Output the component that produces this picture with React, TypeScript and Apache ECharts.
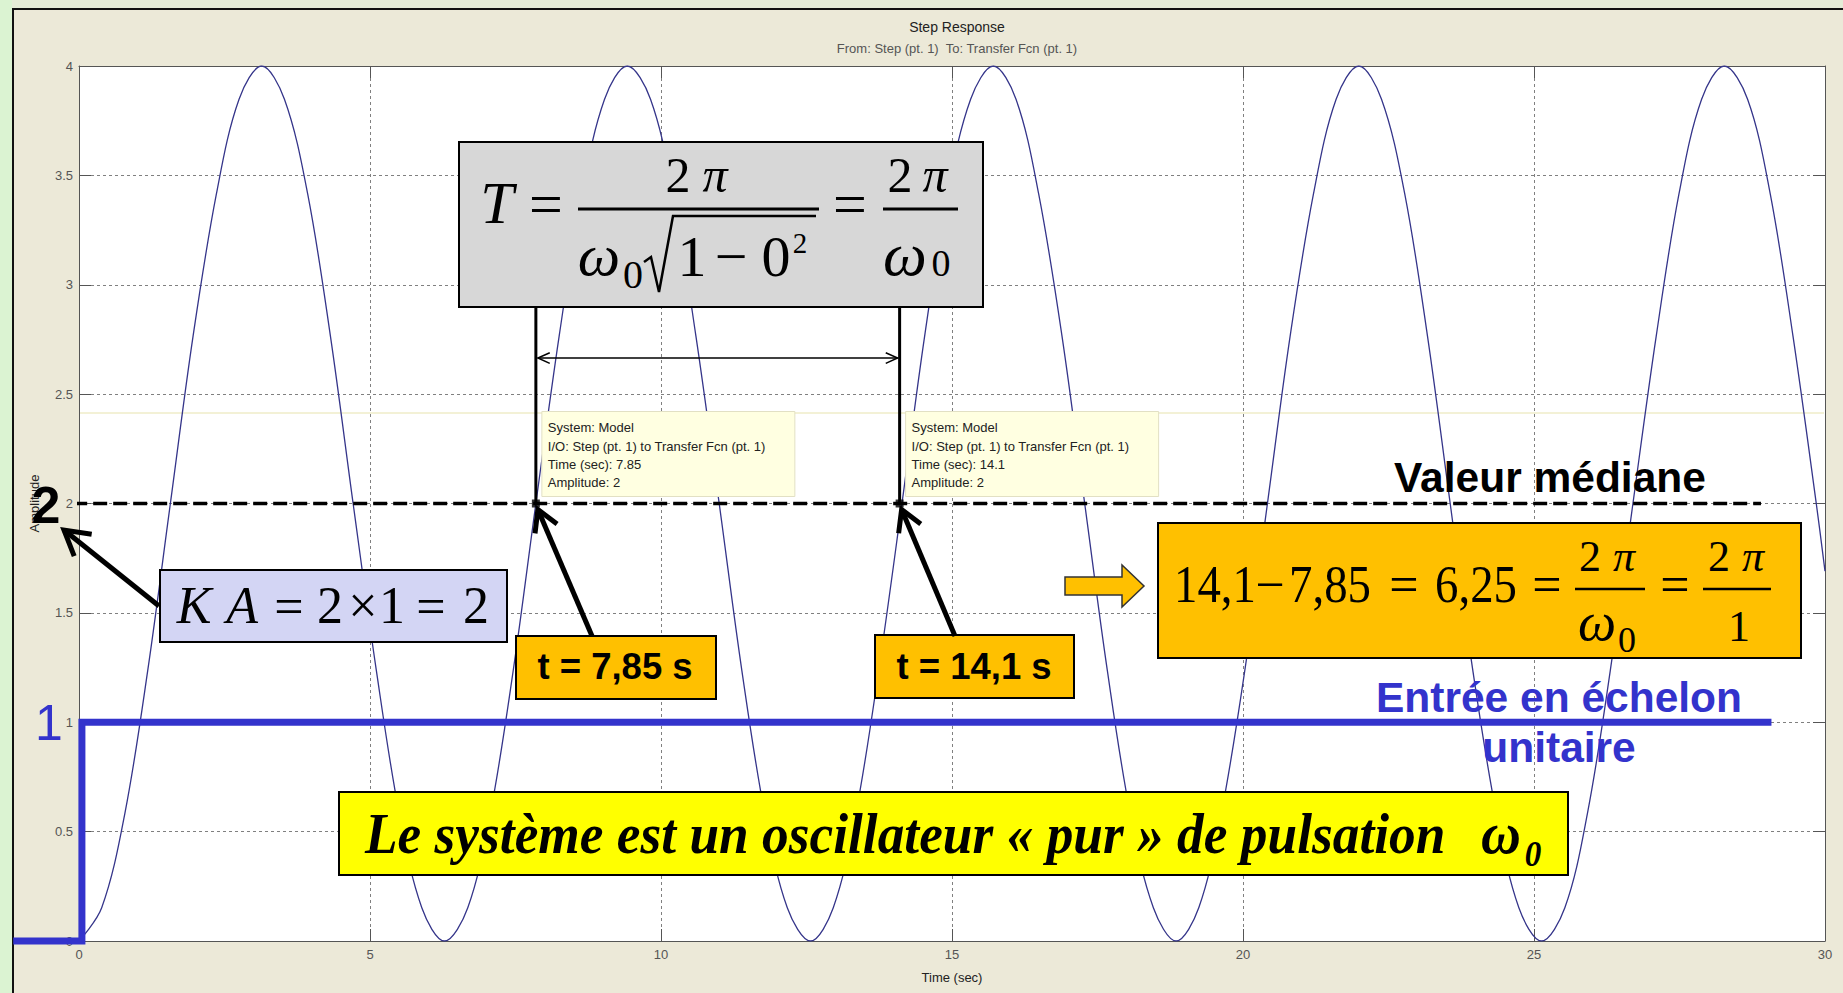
import React, { useEffect, useRef } from "react";
import * as echarts from "echarts";

const W = 1843;
const H = 993;
const GRID_L = 79;
const GRID_R = 18;
const GRID_T = 66;
const GRID_B = 52;

const SERIF = "'Liberation Serif', 'Times New Roman', serif";
const SANS = "'Liberation Sans', Arial, sans-serif";
const BLUE = "#3333cc";
const ORANGE = "#ffc000";

// Step response of the undamped second-order system (time in s, amplitude)
const responseTime = [
  0, 0.39, 0.79, 1.18, 1.57, 1.96, 2.36, 2.75, 3.14, 3.53, 3.93, 4.32, 4.71, 5.11, 5.5, 5.89,
  6.28, 6.68, 7.07, 7.46, 7.85, 8.25, 8.64, 9.03, 9.42, 9.82, 10.21, 10.6, 11.0, 11.39, 11.78, 12.17,
  12.57, 12.96, 13.35, 13.74, 14.14, 14.53, 14.92, 15.32, 15.71, 16.1, 16.49, 16.89, 17.28, 17.67, 18.06, 18.46,
  18.85, 19.24, 19.63, 20.03, 20.42, 20.81, 21.21, 21.6, 21.99, 22.38, 22.78, 23.17, 23.56, 23.95, 24.35, 24.74,
  25.13, 25.53, 25.92, 26.31, 26.7, 27.1, 27.49, 27.88, 28.27, 28.67, 29.06, 29.45, 29.85, 30,
];
const responseAmp = [
  0, 0.152, 0.586, 1.235, 2, 2.765, 3.414, 3.848, 4, 3.848, 3.414, 2.765, 2, 1.235, 0.586, 0.152,
  0, 0.152, 0.586, 1.235, 2, 2.765, 3.414, 3.848, 4, 3.848, 3.414, 2.765, 2, 1.235, 0.586, 0.152,
  0, 0.152, 0.586, 1.235, 2, 2.765, 3.414, 3.848, 4, 3.848, 3.414, 2.765, 2, 1.235, 0.586, 0.152,
  0, 0.152, 0.586, 1.235, 2, 2.765, 3.414, 3.848, 4, 3.848, 3.414, 2.765, 2, 1.235, 0.586, 0.152,
  0, 0.152, 0.586, 1.235, 2, 2.765, 3.414, 3.848, 4, 3.848, 3.414, 2.765, 2, 1.691,
];

// Unit step input
const stepTime = [-1.13, 0.05, 0.05, 29.08];
const stepAmp = [0, 0, 1, 1];

// Median value line
const medianLevel = 2;
const medianSpan = [-0.1, 28.9];

// Data tips
const tipTimes = [7.85, 14.1];
const tipAmps = [2, 2];
const tipLeaderTop = 2.9;
const periodArrowLevel = 2.665;

// Axis ticks
const xMin = 0;
const xMax = 30;
const xStep = 5;
const yMin = 0;
const yMax = 4;
const yStep = 0.5;

type TxtOpts = {
  family?: string;
  style?: string;
  weight?: string;
  fill?: string;
  align?: string;
  scaleX?: number;
  z?: number;
};

function txt(text: string, x: number, baseline: number, size: number, o: TxtOpts = {}) {
  const family = o.family || SERIF;
  const k = family === SANS ? 0.347 : 0.338;
  return {
    type: "text",
    z: o.z ?? 12,
    x,
    y: baseline - k * size,
    scaleX: o.scaleX ?? 1,
    silent: true,
    style: {
      text,
      x: 0,
      y: 0,
      align: o.align || "center",
      verticalAlign: "middle",
      fontSize: size,
      fontFamily: family,
      fontStyle: o.style || "normal",
      fontWeight: o.weight || "normal",
      fill: o.fill || "#000",
    },
  };
}

function rect(x: number, y: number, w: number, h: number, fill: string, stroke = "#000", lw = 2, z = 10) {
  return {
    type: "rect",
    z,
    silent: true,
    shape: { x, y, width: w, height: h },
    style: { fill, stroke, lineWidth: lw },
  };
}

function seg(x1: number, y1: number, x2: number, y2: number, lw: number, stroke = "#000", z = 11) {
  return {
    type: "line",
    z,
    silent: true,
    shape: { x1, y1, x2, y2 },
    style: { stroke, lineWidth: lw },
  };
}

function head(x1: number, y1: number, x2: number, y2: number, len: number, lw: number, angDeg = 30, z = 11) {
  const a = Math.atan2(y2 - y1, x2 - x1);
  const d = (angDeg * Math.PI) / 180;
  const p1 = [x2 - len * Math.cos(a - d), y2 - len * Math.sin(a - d)];
  const p2 = [x2 - len * Math.cos(a + d), y2 - len * Math.sin(a + d)];
  return {
    type: "polyline",
    z,
    silent: true,
    shape: { points: [p1, [x2, y2], p2] },
    style: { stroke: "#000", lineWidth: lw, fill: null, lineJoin: "miter" },
  };
}

function arrow(x1: number, y1: number, x2: number, y2: number, lw: number, len: number, ang = 30) {
  return [seg(x1, y1, x2, y2, lw), head(x1, y1, x2, y2, len, lw, ang)];
}

function buildGraphic(chart: echarts.ECharts) {
  const px = (t: number, v: number) =>
    chart.convertToPixel({ xAxisIndex: 0, yAxisIndex: 0 }, [t, v]) as number[];
  const els: any[] = [];

  // window frame
  els.push({ type: "rect", z: 0, silent: true, shape: { x: 0, y: 0, width: 12, height: H }, style: { fill: "#dbf3d2" } });
  els.push({ type: "rect", z: 0, silent: true, shape: { x: 12, y: 0, width: W - 12, height: 8 }, style: { fill: "#e5ecd7" } });
  els.push(seg(13, 8, 13, H, 2, "#111", 1));
  els.push(seg(12, 9, W, 9, 2, "#111", 1));

  // faint data-tip guide across the axes
  const [gx0] = px(xMin, 0);
  const [gx1] = px(xMax, 0);
  els.push(seg(gx0 + 1, 413, gx1 - 1, 413, 1.5, "#efedc9", 1));

  // unit step input, drawn through the axis scales (it starts left of the axes)
  els.push({
    type: "polyline",
    z: 3,
    silent: true,
    shape: { points: stepTime.map((t, i) => px(t, stepAmp[i])) },
    style: { stroke: BLUE, lineWidth: 7, fill: null, lineJoin: "miter", lineCap: "butt" },
  });

  // data tips
  tipTimes.forEach((t, i) => {
    const [mx, my] = px(t, tipAmps[i]);
    const bx = mx + 6;
    const by = my - 92;
    els.push(rect(bx, by, 253, 85, "#ffffe1", "#e2e0c4", 1, 9));
    const lines = [
      "System: Model",
      "I/O: Step (pt. 1) to Transfer Fcn (pt. 1)",
      `Time (sec): ${t}`,
      `Amplitude: ${tipAmps[i]}`,
    ];
    const offs = [20.5, 39.5, 57.5, 75.5];
    lines.forEach((l, j) =>
      els.push(txt(l, bx + 6, by + offs[j], 13, { family: SANS, align: "left", fill: "#222", z: 9 }))
    );
  });

  // period arrow between the two data tips
  const [ax1, ay] = px(tipTimes[0], periodArrowLevel);
  const [ax2] = px(tipTimes[1], periodArrowLevel);
  els.push(seg(ax1 + 2, ay, ax2 - 2, ay, 1.5));
  els.push(head(ax2, ay, ax1 + 2, ay, 13, 1.5, 24));
  els.push(head(ax1, ay, ax2 - 2, ay, 13, 1.5, 24));

  // formula box: period of the oscillation
  els.push(rect(459, 142, 524, 165, "#d7d7d7"));
  els.push(txt("T", 497, 223, 60, { style: "italic" }));
  els.push(txt("=", 546, 224, 60));
  els.push(seg(578, 209, 819, 209, 3));
  els.push(txt("2", 678, 192, 50));
  els.push(txt("π", 715, 192, 50, { style: "italic" }));
  els.push(txt("ω", 599, 275, 60, { style: "italic" }));
  els.push(txt("0", 633, 288, 40));
  els.push({
    type: "polyline",
    z: 11,
    silent: true,
    shape: { points: [[644, 262], [651, 257], [659, 292], [673, 216], [816, 216]] },
    style: { stroke: "#000", lineWidth: 2.5, fill: null },
  });
  els.push(txt("1", 692, 276, 58));
  els.push(txt("−", 731, 276, 58));
  els.push(txt("0", 776, 276, 58));
  els.push(txt("2", 800, 253, 29));
  els.push(txt("=", 850, 224, 60));
  els.push(seg(883, 209, 958, 209, 3));
  els.push(txt("2", 900, 192, 50));
  els.push(txt("π", 935, 192, 50, { style: "italic" }));
  els.push(txt("ω", 905, 275, 62, { style: "italic" }));
  els.push(txt("0", 941, 276, 38));

  // static gain box
  els.push(rect(160, 570, 347, 72, "#d3d5f4"));
  els.push(txt("K", 194, 623, 52, { style: "italic" }));
  els.push(txt("A", 242, 623, 52, { style: "italic" }));
  els.push(txt("=", 289, 624, 52));
  els.push(txt("2", 330, 623, 52));
  els.push(txt("×", 363, 623, 52));
  els.push(txt("1", 392, 623, 52));
  els.push(txt("=", 431, 624, 52));
  els.push(txt("2", 476, 623, 52));
  els.push(...arrow(159, 606, 64, 530, 5, 28, 30));
  els.push(txt("2", 46, 523, 52, { family: SANS, weight: "bold" }));
  els.push(txt("1", 49, 740, 50, { family: SANS, fill: BLUE }));

  // time labels and their arrows
  const [m1x, m1y] = px(tipTimes[0], tipAmps[0]);
  const [m2x, m2y] = px(tipTimes[1], tipAmps[1]);
  els.push(...arrow(592, 636, m1x + 2, m1y + 6, 5, 24, 30));
  els.push(...arrow(955, 636, m2x + 2, m2y + 6, 5, 24, 30));
  els.push(rect(516, 636, 200, 63, ORANGE));
  els.push(txt(`t = ${String(tipTimes[0]).replace(".", ",")} s`, 615, 679, 36.5, { family: SANS, weight: "bold" }));
  els.push(rect(875, 635, 199, 63, ORANGE));
  els.push(txt(`t = ${String(tipTimes[1]).replace(".", ",")} s`, 974, 679, 36.5, { family: SANS, weight: "bold" }));

  // block arrow and pulsation box
  els.push({
    type: "polygon",
    z: 10,
    silent: true,
    shape: { points: [[1065, 577], [1122, 577], [1122, 565], [1144, 586], [1122, 607], [1122, 595], [1065, 595]] },
    style: { fill: ORANGE, stroke: "#333", lineWidth: 1.5 },
  });
  els.push(rect(1158, 523, 643, 135, ORANGE));
  els.push(txt("14,1", 1215, 602, 52, { scaleX: 0.9 }));
  els.push(txt("−", 1270, 602, 52));
  els.push(txt("7,85", 1330, 602, 52, { scaleX: 0.9 }));
  els.push(txt("=", 1404, 602, 52));
  els.push(txt("6,25", 1476, 602, 52, { scaleX: 0.9 }));
  els.push(txt("=", 1547, 602, 52));
  els.push(seg(1575, 589, 1645, 589, 2.5));
  els.push(txt("2", 1590, 571, 44));
  els.push(txt("π", 1624, 571, 44, { style: "italic" }));
  els.push(txt("ω", 1597, 640, 54, { style: "italic" }));
  els.push(txt("0", 1627, 652, 36));
  els.push(txt("=", 1675, 602, 52));
  els.push(seg(1703, 589, 1771, 589, 2.5));
  els.push(txt("2", 1719, 571, 44));
  els.push(txt("π", 1753, 571, 44, { style: "italic" }));
  els.push(txt("1", 1739, 641, 44));

  // captions
  els.push(txt("Valeur médiane", 1550, 492, 42.5, { family: SANS, weight: "bold" }));
  els.push(txt("Entrée en échelon", 1559, 712, 42.5, { family: SANS, weight: "bold", fill: BLUE }));
  els.push(txt("unitaire", 1559, 762, 42.5, { family: SANS, weight: "bold", fill: BLUE }));

  // conclusion banner
  els.push(rect(339, 792, 1229, 83, "#ffff00"));
  els.push(
    txt("Le système est un oscillateur « pur » de pulsation", 365, 853, 58, {
      style: "italic",
      weight: "bold",
      align: "left",
      scaleX: 0.92,
    })
  );
  els.push(txt("ω", 1501, 853, 60, { style: "italic", weight: "bold", scaleX: 0.92 }));
  els.push(txt("0", 1533, 866, 36, { style: "italic", weight: "bold", scaleX: 0.92 }));

  return { elements: els };
}

export default function App() {
  const ref = useRef<HTMLDivElement>(null);

  useEffect(() => {
    const chart = echarts.init(ref.current!, null, { renderer: "svg" });
    const axisText = { color: "#555", fontSize: 13, fontFamily: SANS };
    const frameLine = { show: true, lineStyle: { color: "#555", width: 1 } };
    const innerTick = { show: true, inside: true, length: 12, lineStyle: { color: "#555" } };
    const gridLine = { show: true, lineStyle: { color: "#808080", width: 1, type: [3, 3] } };
    const plotCenter = (GRID_L + (W - GRID_R)) / 2;

    chart.setOption({
      animation: false,
      backgroundColor: "#ece9d8",
      title: [
        {
          text: "Step Response",
          left: plotCenter,
          top: 15,
          textAlign: "center",
          textStyle: { fontSize: 14, fontWeight: "normal", color: "#222", fontFamily: SANS },
        },
        {
          text: "From: Step (pt. 1)  To: Transfer Fcn (pt. 1)",
          left: plotCenter,
          top: 37,
          textAlign: "center",
          textStyle: { fontSize: 13, fontWeight: "normal", color: "#555", fontFamily: SANS },
        },
      ],
      grid: {
        left: GRID_L,
        right: GRID_R,
        top: GRID_T,
        bottom: GRID_B,
        show: true,
        backgroundColor: "#ffffff",
        borderWidth: 0,
        containLabel: false,
        outerBoundsMode: "none",
      },
      xAxis: [
        {
          type: "value",
          min: xMin,
          max: xMax,
          interval: xStep,
          name: "Time (sec)",
          nameLocation: "middle",
          nameGap: 30,
          nameMoveOverlap: false,
          nameTextStyle: { color: "#222", fontSize: 13, fontFamily: SANS },
          axisLine: { ...frameLine, onZero: false },
          axisTick: innerTick,
          axisLabel: { ...axisText, margin: 7 },
          splitLine: gridLine,
        },
        {
          type: "value",
          position: "top",
          min: xMin,
          max: xMax,
          interval: xStep,
          axisLine: { ...frameLine, onZero: false },
          axisTick: innerTick,
          axisLabel: { show: false },
          splitLine: { show: false },
        },
      ],
      yAxis: [
        {
          type: "value",
          min: yMin,
          max: yMax,
          interval: yStep,
          name: "Amplitude",
          nameLocation: "middle",
          nameGap: 38,
          nameRotate: 90,
          nameMoveOverlap: false,
          nameTextStyle: { color: "#222", fontSize: 13, fontFamily: SANS },
          axisLine: { ...frameLine, onZero: false },
          axisTick: innerTick,
          axisLabel: { ...axisText, margin: 6 },
          splitLine: gridLine,
        },
        {
          type: "value",
          position: "right",
          min: yMin,
          max: yMax,
          interval: yStep,
          axisLine: { ...frameLine, onZero: false },
          axisTick: innerTick,
          axisLabel: { show: false },
          splitLine: { show: false },
        },
      ],
      series: [
        {
          name: "Réponse",
          type: "line",
          data: responseTime.map((t, i) => [t, responseAmp[i]]),
          smooth: 0.35,
          showSymbol: false,
          lineStyle: { color: "#35358a", width: 1.3 },
          z: 2,
        },
        {
          name: "Médiane",
          type: "line",
          data: medianSpan.map((t) => [t, medianLevel]),
          clip: false,
          showSymbol: false,
          lineStyle: { color: "#000", width: 3.5, type: [14, 6] },
          z: 4,
        },
        ...tipTimes.map((t, i) => ({
          name: `Repère ${i + 1}`,
          type: "line",
          data: [
            [t, tipAmps[i]],
            [t, tipLeaderTop],
          ],
          showSymbol: false,
          lineStyle: { color: "#000", width: 3 },
          z: 5,
        })),
        {
          name: "Points",
          type: "scatter",
          data: tipTimes.map((t, i) => [t, tipAmps[i]]),
          symbol: "rect",
          symbolSize: 8,
          itemStyle: { color: "#000" },
          z: 6,
        },
      ],
    });

    chart.setOption({ graphic: buildGraphic(chart) });

    return () => chart.dispose();
  }, []);

  return <div ref={ref} style={{ position: "fixed", left: 0, top: 0, width: W, height: H }} />;
}
